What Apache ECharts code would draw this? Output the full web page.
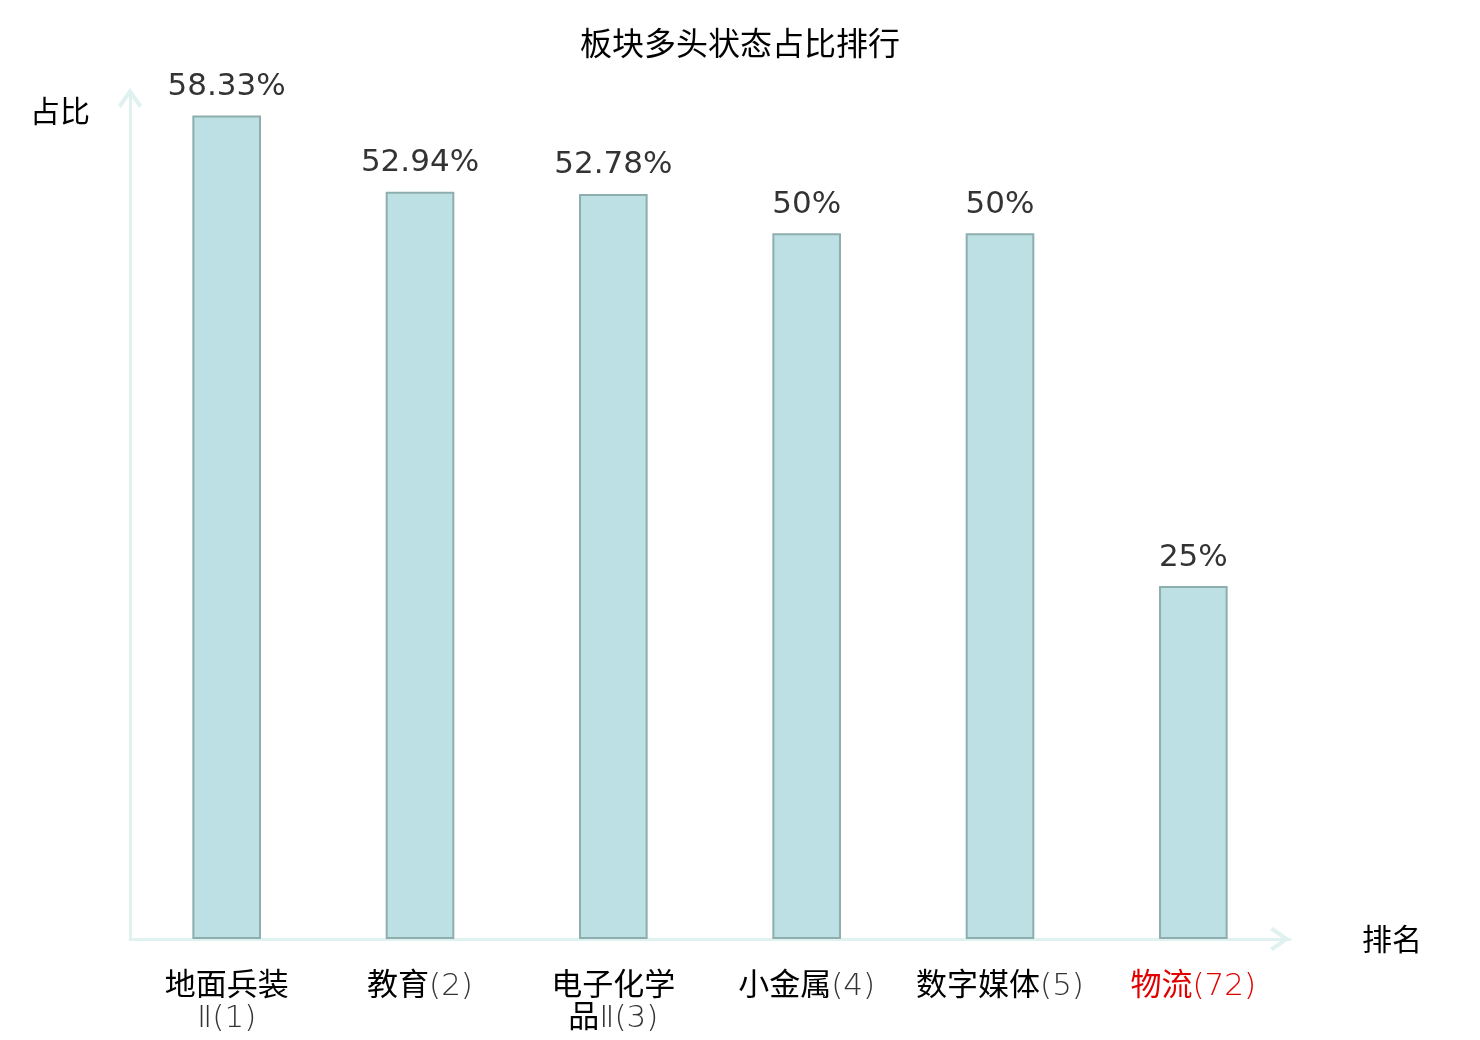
<!DOCTYPE html>
<html>
<head>
<meta charset="utf-8">
<title>板块多头状态占比排行</title>
<script src="https://cdn.jsdelivr.net/npm/echarts@6/dist/echarts.min.js"></script>
<style>
    html, body { margin: 0; padding: 0; background: #fff; }
    #chart { width: 1480px; height: 1040px; }
</style>
</head>
<body>
<div id="chart"></div>
<script>
// 板块名称、排名、占比
var names = ['地面兵装\nⅡ', '教育', '电子化学\n品Ⅱ', '小金属', '数字媒体', '物流'];
var ranks = [1, 2, 3, 4, 5, 72];
var ratios = [58.33, 52.94, 52.78, 50, 50, 25];
var highlight = 5; // 红色标出的板块

var chart = echarts.init(document.getElementById('chart'));

var cats = names.map(function (n, i) { return n + '(' + ranks[i] + ')'; });

// 空心箭头
var arrowPath = 'path://M0,17 L12,0 L24,17 L21,20 L12,7 L3,20 Z';

function fmtLabel(value) {
    var i = cats.indexOf(value);
    var red = i === highlight;
    var n = red ? 'nr' : 'n';
    var r = red ? 'rr' : 'r';
    var parts = names[i].split('\n');
    var last = parts.pop();
    var out = parts.map(function (p) { return '{' + n + '|' + p + '}'; });
    // 罗马数字和排名用细体
    var m = last.match(/^(.*?)(Ⅱ?)$/);
    var line = (m[1] ? '{' + n + '|' + m[1] + '}' : '') + '{' + r + '|' + m[2] + '(' + ranks[i] + ')}';
    out.push(line);
    return out.join('\n');
}

var option = {
    textStyle: { fontFamily: 'Noto Sans CJK SC' },
    title: {
        text: '板块多头状态占比排行',
        left: 'center',
        top: 22,
        textStyle: { fontSize: 32, fontWeight: 'normal', color: '#000' }
    },
    grid: { left: 130, right: 190, top: 92, bottom: 101 },
    xAxis: {
        type: 'category',
        data: cats,
        name: '排名',
        nameGap: 72,
        nameTextStyle: { fontSize: 30, color: '#000', verticalAlign: 'middle' },
        axisLine: {
            lineStyle: { color: '#dff2ef', width: 3 },
            symbol: ['none', arrowPath],
            symbolSize: [24, 20],
            symbolOffset: [0, -10]
        },
        axisTick: { show: false },
        axisLabel: {
            interval: 0,
            margin: 28,
            formatter: fmtLabel,
            rich: {
                n: { fontSize: 31, color: '#000', lineHeight: 32, verticalAlign: 'middle' },
                nr: { fontSize: 31, color: '#e00000', lineHeight: 32, verticalAlign: 'middle' },
                r: { fontSize: 31, color: '#333', lineHeight: 32, verticalAlign: 'middle', padding: [7, 0, 0, 0], fontFamily: 'DejaVu Sans', fontWeight: 200 },
                rr: { fontSize: 31, color: '#e00000', lineHeight: 32, verticalAlign: 'middle', padding: [7, 0, 0, 0], fontFamily: 'DejaVu Sans', fontWeight: 200 }
            }
        }
    },
    yAxis: {
        type: 'value',
        min: 0,
        max: 60,
        name: '占比',
        nameLocation: 'end',
        nameGap: -34,
        nameTextStyle: { fontSize: 30, color: '#000', align: 'right', padding: [0, 40, 0, 0] },
        axisLine: {
            show: true,
            lineStyle: { color: '#dff2ef', width: 3 },
            symbol: ['none', arrowPath],
            symbolSize: [24, 20],
            symbolOffset: [0, -6]
        },
        axisTick: { show: false },
        axisLabel: { show: false },
        splitLine: { show: false }
    },
    series: [{
        type: 'bar',
        data: ratios,
        barWidth: '35.5%',
        itemStyle: { color: '#bce0e3', borderColor: '#8eaeae', borderWidth: 2 },
        label: {
            show: true,
            position: 'top',
            distance: 13,
            fontSize: 31,
            color: '#333',
            fontFamily: 'DejaVu Sans',
            formatter: function (p) { return p.value + '%'; }
        }
    }]
};

chart.setOption(option);
</script>
</body>
</html>
